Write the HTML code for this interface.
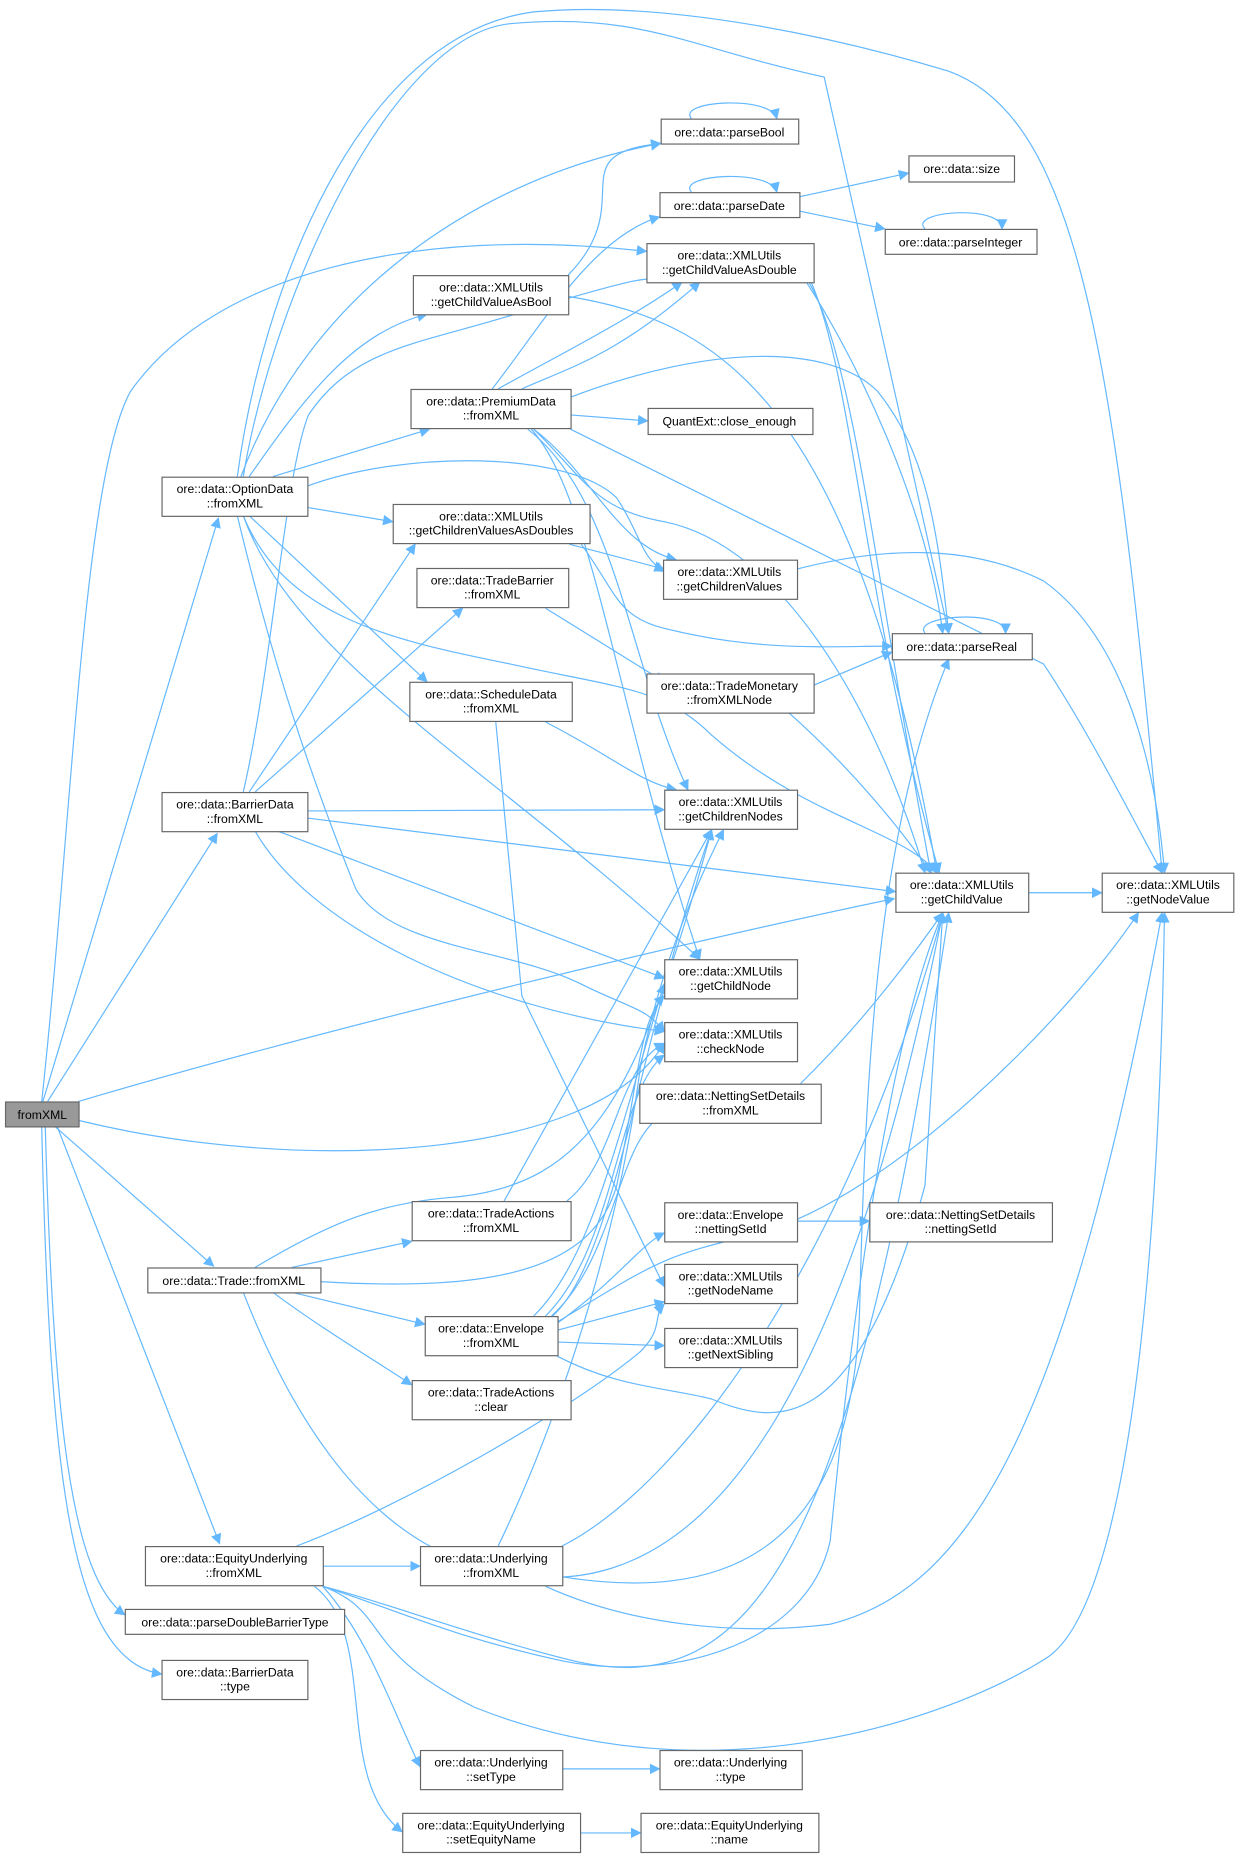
<!DOCTYPE html>
<html><head><meta charset="utf-8"><style>
html,body{margin:0;padding:0;background:#fff}
svg{display:block}
text{font-family:"Liberation Sans",Arial,sans-serif;font-size:10.3px;fill:#000}
.e{fill:none;stroke:#63b8ff;stroke-width:1}
.n{fill:#fff;stroke:#666;stroke-width:1}
</style></head><body>
<svg width="1237" height="1859" viewBox="0 0 1043 1568" xmlns="http://www.w3.org/2000/svg">
<defs><marker id="a" viewBox="0 0 10 10" refX="9" refY="5" markerWidth="9" markerHeight="9" orient="auto" markerUnits="userSpaceOnUse"><path d="M0,0L10,5L0,10z" fill="#63b8ff"/></marker></defs>
<g class="e" marker-end="url(#a)">
<!-- from fromXML -->
<path d="M36,929 L184,437"/>
<path d="M40,929 L183,703"/>
<path d="M46,950 L180,1068"/>
<path d="M48,950 L185,1302"/>
<path d="M38,950 C45,1200 60,1330 105,1362"/>
<path d="M35,950 C42,1250 60,1400 136,1412"/>
<path d="M66,929 C300,860 600,790 754,758"/>
<path d="M66,945 C250,990 500,980 560,880"/>
<path d="M35,929 C60,700 70,400 110,330 C180,230 350,190 545,212"/>
<!-- OptionData -->
<path d="M203,402 C260,250 400,150 557,121"/>
<path d="M210,402 C260,330 300,280 360,265"/>
<path d="M230,402 L362,362"/>
<path d="M259,428 L331,440"/>
<path d="M259,410 C340,380 480,380 520,420 C540,450 540,470 560,482"/>
<path d="M205,435 C240,520 330,540 430,560 C520,580 560,580 600,620 C680,690 760,700 790,736"/>
<path d="M210,435 L360,575"/>
<path d="M205,435 C250,560 420,650 590,809"/>
<path d="M200,435 C230,560 260,650 300,750 C330,800 430,800 490,830 C530,850 545,850 560,870"/>
<path d="M200,402 C220,250 300,30 450,10 C560,0 700,30 800,60 C910,100 940,300 980,736"/>
<path d="M205,402 C230,250 330,30 430,20 C540,10 580,40 695,65 L800,534"/>
<!-- BarrierData -->
<path d="M205,668 C230,560 240,400 260,350 C300,290 360,290 450,260 C520,240 550,230 560,238"/>
<path d="M210,668 L350,459"/>
<path d="M215,668 L390,513"/>
<path d="M259,684 L560,683"/>
<path d="M259,690 L755,752"/>
<path d="M234,701 L560,825"/>
<path d="M215,701 C260,780 400,850 560,870"/>
<!-- PremiumData -->
<path d="M415,328 C460,270 500,200 556,183"/>
<path d="M420,328 C470,300 530,270 575,238"/>
<path d="M440,328 C480,310 520,300 590,238"/>
<path d="M481,350 L546,355"/>
<path d="M481,335 C600,290 700,290 740,330 C780,380 790,440 800,534"/>
<path d="M481,362 L880,560 C920,620 960,700 980,736"/>
<path d="M450,362 C500,400 520,460 570,472"/>
<path d="M445,362 C520,420 530,560 580,666"/>
<path d="M448,362 C500,420 520,600 590,809"/>
<path d="M450,362 C490,400 500,430 560,440 C660,460 740,600 780,736"/>
<!-- getChildValueAsBool -->
<path d="M479,232 C540,170 470,130 557,121"/>
<path d="M479,250 C600,270 720,330 790,736"/>
<!-- self loops -->
<path d="M583,100 C570,85 650,80 655,100"/>
<path d="M583,162 C570,147 650,142 655,162"/>
<path d="M780,193 C765,178 845,172 845,193"/>
<path d="M780,534 C768,519 848,513 848,534"/>
<!-- parseDate -->
<path d="M674,166 L766,146"/>
<path d="M674,178 L746,193"/>
<!-- getChildValueAsDouble -->
<path d="M680,238 C720,300 780,420 795,534"/>
<path d="M682,238 C720,300 740,500 785,736"/>
<path d="M684,238 C720,320 730,520 792,736"/>
<!-- getChildrenValuesAsDoubles -->
<path d="M480,459 L560,480"/>
<path d="M490,459 C520,500 520,520 560,530 C640,550 700,545 752,545"/>
<!-- getChildrenValues -->
<path d="M672,480 C750,460 820,460 880,490 C950,540 975,650 982,736"/>
<!-- TradeBarrier -->
<path d="M460,513 L560,575"/>
<!-- TradeMonetary -->
<path d="M686,578 L752,550"/>
<path d="M665,601 C720,650 760,700 785,736"/>
<!-- ScheduleData -->
<path d="M460,609 C520,640 540,660 570,666"/>
<path d="M418,609 L440,840 L560,1085"/>
<!-- getChildValue -->
<path d="M867,753 L929,753"/>
<!-- NettingSetDetails fromXML -->
<path d="M675,914 C720,870 760,820 795,770"/>
<!-- Envelope nettingSetId -->
<path d="M672,1030 L733,1030"/>
<!-- Trade -->
<path d="M246,1069 L347,1047"/>
<path d="M246,1090 L358,1117"/>
<path d="M230,1090 C270,1120 320,1150 347,1168"/>
<path d="M270,1081 C420,1090 500,1070 520,1000 C540,900 540,860 560,840"/>
<path d="M205,1090 C240,1180 300,1290 400,1320 C560,1370 700,1250 795,770"/>
<path d="M215,1069 C280,1030 320,1015 380,1010 C500,1000 540,920 600,700"/>
<!-- TradeActions -->
<path d="M425,1013 L600,700"/>
<path d="M478,1013 C520,980 520,900 560,880"/>
<!-- Envelope -->
<path d="M450,1110 C500,1060 520,960 560,830"/>
<path d="M460,1110 C520,1050 520,920 560,890"/>
<path d="M465,1110 C520,1060 520,960 560,940"/>
<path d="M470,1116 C520,1080 540,1050 560,1040"/>
<path d="M470,1122 L560,1098"/>
<path d="M470,1132 L560,1135"/>
<path d="M466,1110 C520,1060 540,870 600,700"/>
<path d="M470,1144 C520,1170 560,1170 600,1180 C650,1200 720,1220 780,1000 L795,770"/>
<path d="M470,1115 C560,1060 560,1060 640,1040 C750,1010 900,860 960,770"/>
<!-- EquityUnderlying -->
<path d="M272,1321 L354,1321"/>
<path d="M250,1304 C340,1270 480,1190 540,1140 C560,1120 550,1110 560,1100"/>
<path d="M272,1338 C310,1380 330,1440 354,1490"/>
<path d="M265,1338 C320,1380 280,1500 339,1545"/>
<path d="M272,1338 C320,1350 400,1380 480,1400 C640,1440 720,1300 800,770"/>
<path d="M272,1338 C330,1360 300,1390 400,1440 C600,1520 800,1450 880,1400 C970,1350 980,900 982,770"/>
<path d="M272,1338 C340,1360 380,1380 470,1400 C560,1420 680,1390 700,1300 C710,1200 740,900 795,770"/>
<!-- Underlying -->
<path d="M420,1304 C470,1200 520,1050 540,900 C560,800 600,720 610,700"/>
<path d="M474,1304 C580,1250 720,1050 795,770"/>
<path d="M474,1330 C600,1350 720,1320 725,1100 C730,900 740,700 800,556"/>
<path d="M460,1338 C530,1370 620,1380 700,1370 C820,1340 900,1200 980,770"/>
<!-- setType / setEquityName -->
<path d="M474,1492 L556,1492"/>
<path d="M489,1546 L540,1546"/>
</g>
<g>
<rect x="4.5" y="929.5" width="62" height="21" fill="#999" stroke="#666"/>
<text x="35.5" y="944" text-anchor="middle">fromXML</text>
</g>
<g class="nodes">
<rect class="n" x="136.5" y="402.5" width="123" height="33"/><text x="198" y="416" text-anchor="middle">ore::data::OptionData</text><text x="198" y="428" text-anchor="middle">::fromXML</text>
<rect class="n" x="136.5" y="668.5" width="123" height="33"/><text x="198" y="682" text-anchor="middle">ore::data::BarrierData</text><text x="198" y="694" text-anchor="middle">::fromXML</text>
<rect class="n" x="124.5" y="1069.5" width="146" height="21"/><text x="197" y="1084" text-anchor="middle">ore::data::Trade::fromXML</text>
<rect class="n" x="122.5" y="1304.5" width="150" height="33"/><text x="197" y="1318" text-anchor="middle">ore::data::EquityUnderlying</text><text x="197" y="1330" text-anchor="middle">::fromXML</text>
<rect class="n" x="105.5" y="1357.5" width="185" height="21"/><text x="198" y="1372" text-anchor="middle">ore::data::parseDoubleBarrierType</text>
<rect class="n" x="136.5" y="1400.5" width="123" height="33"/><text x="198" y="1414" text-anchor="middle">ore::data::BarrierData</text><text x="198" y="1426" text-anchor="middle">::type</text>

<rect class="n" x="348.5" y="232.5" width="131" height="33"/><text x="414" y="246" text-anchor="middle">ore::data::XMLUtils</text><text x="414" y="258" text-anchor="middle">::getChildValueAsBool</text>
<rect class="n" x="346.5" y="328.5" width="135" height="33"/><text x="414" y="342" text-anchor="middle">ore::data::PremiumData</text><text x="414" y="354" text-anchor="middle">::fromXML</text>
<rect class="n" x="331.5" y="425.5" width="166" height="33"/><text x="414" y="439" text-anchor="middle">ore::data::XMLUtils</text><text x="414" y="451" text-anchor="middle">::getChildrenValuesAsDoubles</text>
<rect class="n" x="351.5" y="479.5" width="128" height="33"/><text x="415" y="493" text-anchor="middle">ore::data::TradeBarrier</text><text x="415" y="505" text-anchor="middle">::fromXML</text>
<rect class="n" x="345.5" y="575.5" width="137" height="33"/><text x="414" y="589" text-anchor="middle">ore::data::ScheduleData</text><text x="414" y="601" text-anchor="middle">::fromXML</text>
<rect class="n" x="347.5" y="1013.5" width="134" height="33"/><text x="414" y="1027" text-anchor="middle">ore::data::TradeActions</text><text x="414" y="1039" text-anchor="middle">::fromXML</text>
<rect class="n" x="358.5" y="1110.5" width="112" height="33"/><text x="414" y="1124" text-anchor="middle">ore::data::Envelope</text><text x="414" y="1136" text-anchor="middle">::fromXML</text>
<rect class="n" x="347.5" y="1164.5" width="134" height="33"/><text x="414" y="1178" text-anchor="middle">ore::data::TradeActions</text><text x="414" y="1190" text-anchor="middle">::clear</text>
<rect class="n" x="354.5" y="1304.5" width="120" height="33"/><text x="414" y="1318" text-anchor="middle">ore::data::Underlying</text><text x="414" y="1330" text-anchor="middle">::fromXML</text>
<rect class="n" x="354.5" y="1476.5" width="120" height="33"/><text x="414" y="1490" text-anchor="middle">ore::data::Underlying</text><text x="414" y="1502" text-anchor="middle">::setType</text>
<rect class="n" x="339.5" y="1529.5" width="150" height="33"/><text x="414" y="1543" text-anchor="middle">ore::data::EquityUnderlying</text><text x="414" y="1555" text-anchor="middle">::setEquityName</text>

<rect class="n" x="557.5" y="100.5" width="116" height="21"/><text x="615" y="115" text-anchor="middle">ore::data::parseBool</text>
<rect class="n" x="556.5" y="162.5" width="118" height="21"/><text x="615" y="177" text-anchor="middle">ore::data::parseDate</text>
<rect class="n" x="545.5" y="205.5" width="141" height="33"/><text x="615" y="219" text-anchor="middle">ore::data::XMLUtils</text><text x="615" y="231" text-anchor="middle">::getChildValueAsDouble</text>
<rect class="n" x="546.5" y="344.5" width="139" height="22"/><text x="615" y="359" text-anchor="middle">QuantExt::close_enough</text>
<rect class="n" x="559.5" y="472.5" width="113" height="33"/><text x="615" y="486" text-anchor="middle">ore::data::XMLUtils</text><text x="615" y="498" text-anchor="middle">::getChildrenValues</text>
<rect class="n" x="545.5" y="568.5" width="141" height="33"/><text x="615" y="582" text-anchor="middle">ore::data::TradeMonetary</text><text x="615" y="594" text-anchor="middle">::fromXMLNode</text>
<rect class="n" x="560.5" y="666.5" width="112" height="33"/><text x="616" y="680" text-anchor="middle">ore::data::XMLUtils</text><text x="616" y="692" text-anchor="middle">::getChildrenNodes</text>
<rect class="n" x="560.5" y="809.5" width="112" height="33"/><text x="616" y="823" text-anchor="middle">ore::data::XMLUtils</text><text x="616" y="835" text-anchor="middle">::getChildNode</text>
<rect class="n" x="560.5" y="862.5" width="112" height="33"/><text x="616" y="876" text-anchor="middle">ore::data::XMLUtils</text><text x="616" y="888" text-anchor="middle">::checkNode</text>
<rect class="n" x="539.5" y="914.5" width="153" height="33"/><text x="616" y="928" text-anchor="middle">ore::data::NettingSetDetails</text><text x="616" y="940" text-anchor="middle">::fromXML</text>
<rect class="n" x="560.5" y="1014.5" width="112" height="33"/><text x="616" y="1028" text-anchor="middle">ore::data::Envelope</text><text x="616" y="1040" text-anchor="middle">::nettingSetId</text>
<rect class="n" x="560.5" y="1066.5" width="112" height="33"/><text x="616" y="1080" text-anchor="middle">ore::data::XMLUtils</text><text x="616" y="1092" text-anchor="middle">::getNodeName</text>
<rect class="n" x="560.5" y="1120.5" width="112" height="33"/><text x="616" y="1134" text-anchor="middle">ore::data::XMLUtils</text><text x="616" y="1146" text-anchor="middle">::getNextSibling</text>
<rect class="n" x="556.5" y="1476.5" width="120" height="33"/><text x="616" y="1490" text-anchor="middle">ore::data::Underlying</text><text x="616" y="1502" text-anchor="middle">::type</text>
<rect class="n" x="540.5" y="1529.5" width="150" height="33"/><text x="615" y="1543" text-anchor="middle">ore::data::EquityUnderlying</text><text x="615" y="1555" text-anchor="middle">::name</text>

<rect class="n" x="766.5" y="131.5" width="89" height="22"/><text x="811" y="146" text-anchor="middle">ore::data::size</text>
<rect class="n" x="746.5" y="193.5" width="128" height="21"/><text x="810" y="208" text-anchor="middle">ore::data::parseInteger</text>
<rect class="n" x="752.5" y="534.5" width="118" height="22"/><text x="811" y="549" text-anchor="middle">ore::data::parseReal</text>
<rect class="n" x="755.5" y="736.5" width="112" height="33"/><text x="811" y="750" text-anchor="middle">ore::data::XMLUtils</text><text x="811" y="762" text-anchor="middle">::getChildValue</text>
<rect class="n" x="733.5" y="1014.5" width="154" height="33"/><text x="810" y="1028" text-anchor="middle">ore::data::NettingSetDetails</text><text x="810" y="1040" text-anchor="middle">::nettingSetId</text>
<rect class="n" x="929.5" y="736.5" width="111" height="33"/><text x="985" y="750" text-anchor="middle">ore::data::XMLUtils</text><text x="985" y="762" text-anchor="middle">::getNodeValue</text>
</g>
</svg>
</body></html>
